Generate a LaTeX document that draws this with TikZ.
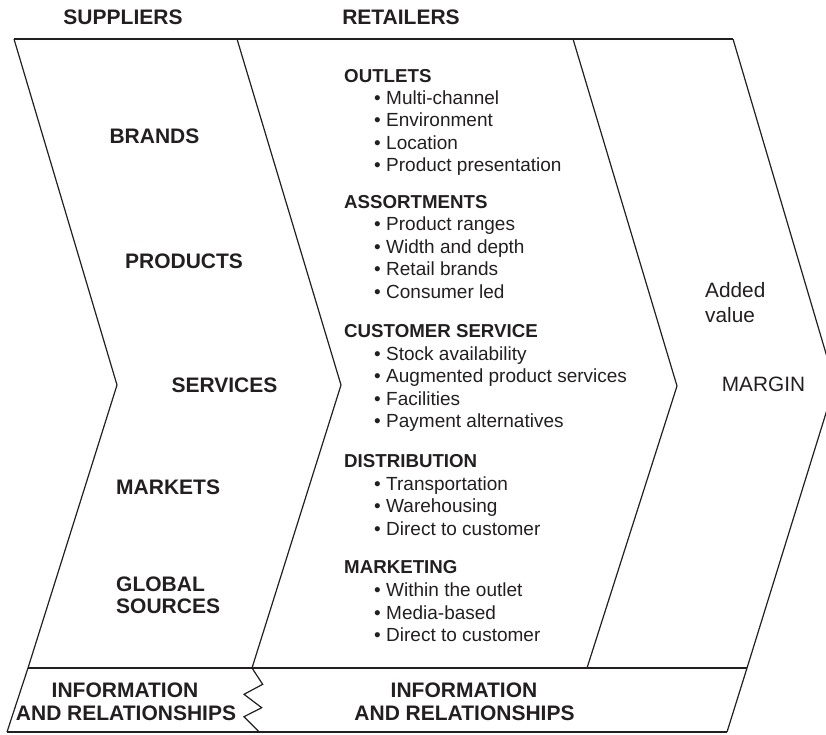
\documentclass[tikz,border=0pt]{standalone}
\usepackage{fontspec}
\setmainfont{Liberation Sans}
\definecolor{ink}{HTML}{231F20}
\tikzset{
  frame/.style={draw=ink, line width=1.2pt, line join=miter},
  biglabel/.style={inner sep=0pt, anchor=base, text=ink, font=\fontsize{21}{24}\selectfont\bfseries},
  bigleft/.style={biglabel, anchor=base west},
  heading/.style={inner sep=0pt, anchor=base west, text=ink, font=\fontsize{18.7}{22}\selectfont\bfseries},
  itemtext/.style={inner sep=0pt, anchor=base west, text=ink, font=\fontsize{19}{22}\selectfont},
  plainlabel/.style={inner sep=0pt, anchor=base west, text=ink, font=\fontsize{20.8}{24}\selectfont}
}
\newcommand{\bulitem}[3]{%
  \node[itemtext] (#1b) at (374,#2) {•};
  \node[itemtext] (#1) at (386,#2) {#3};}
\begin{document}
\begin{tikzpicture}[x=1pt,y=-1pt]
\useasboundingbox (0,0) rectangle (826,734);
% outline coordinates
\coordinate (a1) at (14,39);  \coordinate (p1) at (117,385); \coordinate (b1) at (28,668);  \coordinate (c1) at (7,732);
\coordinate (a2) at (237,39); \coordinate (p2) at (341,385); \coordinate (b2) at (252,668);
\coordinate (a3) at (573,39); \coordinate (p3) at (677,386); \coordinate (b3) at (587,668);
\coordinate (a4) at (733,39); \coordinate (p4) at (835,384); \coordinate (b4) at (747,668); \coordinate (c4) at (727,732);
\coordinate (z1) at (262.7,684.3); \coordinate (z2) at (244,694.3); \coordinate (z3) at (261.7,707.7);
\coordinate (z4) at (244,716.7); \coordinate (z5) at (259.3,732);
% frame
\draw[frame] (a1) -- (a4);
\draw[frame] (a1) -- (p1) -- (b1) -- (c1);
\draw[frame] (a2) -- (p2) -- (b2);
\draw[frame] (a3) -- (p3) -- (b3);
\draw[frame] (a4) -- (p4) -- (b4) -- (c4);
\draw[frame] (b1) -- (b4);
\draw[frame] (c1) -- (c4);
\draw[frame] (b2) -- (z1) -- (z2) -- (z3) -- (z4) -- (z5);
% headers
\node[biglabel] (suppliers) at (123,24) {SUPPLIERS};
\node[biglabel] (retailers) at (401,24) {RETAILERS};
% supplier column
\node[biglabel] (brands) at (154.5,143) {BRANDS};
\node[biglabel] (products) at (184,268) {PRODUCTS};
\node[biglabel] (services) at (224.5,392) {SERVICES};
\node[bigleft] (markets) at (116,494) {MARKETS};
\node[bigleft] (global) at (116,591) {GLOBAL};
\node[bigleft] (sources) at (116,613.5) {SOURCES};
% bottom band
\node[biglabel] (infoL) at (125,697) {INFORMATION};
\node[biglabel] (relL) at (126,720) {AND RELATIONSHIPS};
\node[biglabel] (infoR) at (464,697) {INFORMATION};
\node[biglabel] (relR) at (464.5,720) {AND RELATIONSHIPS};
% retailer column
\node[heading] (outlets) at (344,82) {OUTLETS};
\bulitem{o1}{104.3}{Multi-channel}
\bulitem{o2}{126.7}{Environment}
\bulitem{o3}{149.3}{Location}
\bulitem{o4}{171.7}{Product presentation}
\node[heading] (assort) at (344,208.3) {ASSORTMENTS};
\bulitem{s1}{230.5}{Product ranges}
\bulitem{s2}{253}{Width and depth}
\bulitem{s3}{275.5}{Retail brands}
\bulitem{s4}{298}{Consumer led}
\node[heading] (custserv) at (344,337) {CUSTOMER SERVICE};
\bulitem{c1}{360}{Stock availability}
\bulitem{c2}{382.7}{Augmented product services}
\bulitem{c3}{405}{Facilities}
\bulitem{c4}{427.5}{Payment alternatives}
\node[heading] (distrib) at (344,467) {DISTRIBUTION};
\bulitem{d1}{490}{Transportation}
\bulitem{d2}{512.5}{Warehousing}
\bulitem{d3}{535}{Direct to customer}
\node[heading] (marketing) at (344,573) {MARKETING};
\bulitem{m1}{596.7}{Within the outlet}
\bulitem{m2}{619}{Media-based}
\bulitem{m3}{641.5}{Direct to customer}
% value column
\node[plainlabel] (added) at (705,297) {Added};
\node[plainlabel] (value) at (705,322) {value};
\node[biglabel, font=\fontsize{20.8}{24}\selectfont] (margin) at (763.5,391) {MARGIN};
\end{tikzpicture}
\end{document}
